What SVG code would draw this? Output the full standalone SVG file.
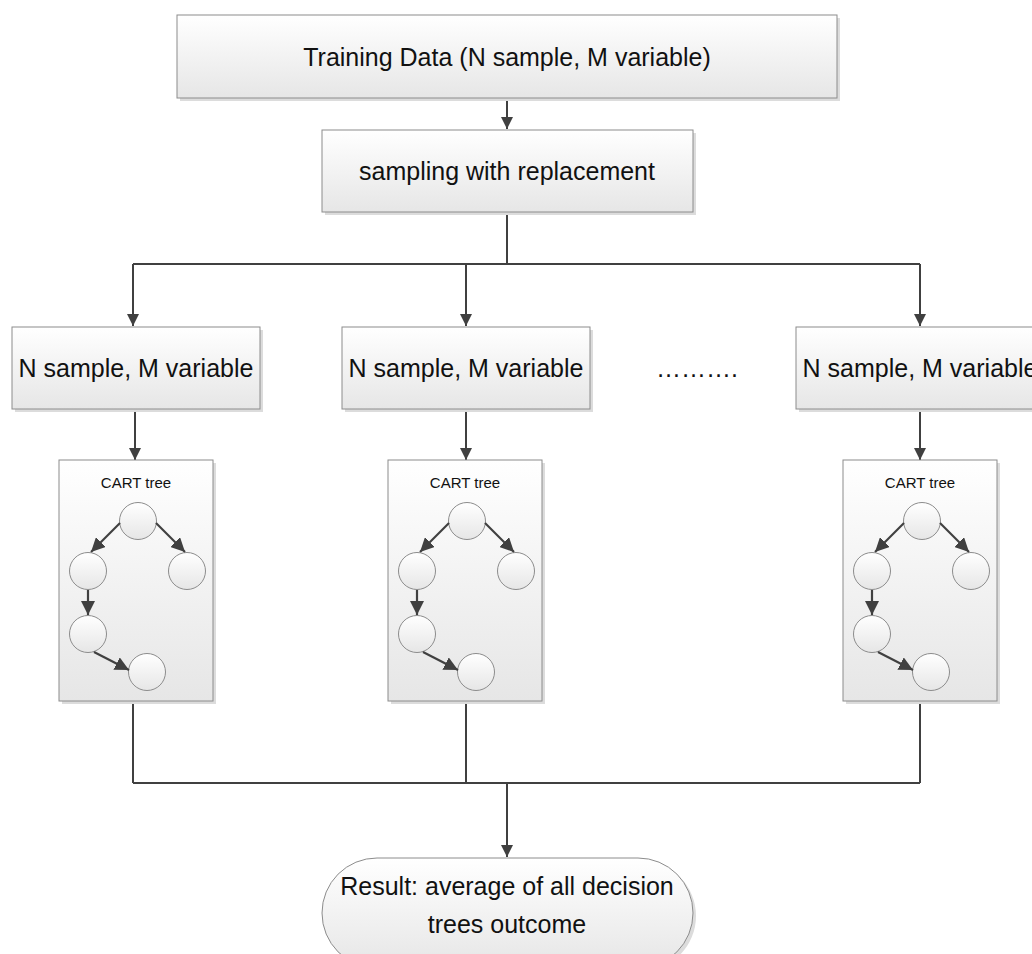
<svg xmlns="http://www.w3.org/2000/svg" width="1032" height="954" viewBox="0 0 1032 954">
<style>
.box{fill:url(#g);stroke:#8c8c8c;stroke-width:1}
.sh{fill:#dcdcdc}
.t{font-family:"Liberation Sans",Arial,sans-serif;fill:#111;text-anchor:middle}
.big{font-size:25px}
.sm{font-size:15px}
.c{stroke:#404040;stroke-width:2;fill:none}
.ca{stroke:#404040;stroke-width:2;fill:none;marker-end:url(#ah)}
.ta{stroke:#404040;stroke-width:2.2;fill:none;marker-end:url(#ah2)}
.cir{fill:url(#g);stroke:#8c8c8c;stroke-width:1}
</style>
<defs>
<linearGradient id="g" x1="0" y1="0" x2="0" y2="1">
<stop offset="0" stop-color="#ffffff"/>
<stop offset="1" stop-color="#e6e6e6"/>
</linearGradient>
<marker id="ah" markerWidth="12" markerHeight="12" viewBox="0 0 12 12" refX="12" refY="6" orient="auto" markerUnits="userSpaceOnUse">
<path d="M0,0 L12,6 L0,12 z" fill="#404040"/>
</marker>
<marker id="ah2" markerWidth="14" markerHeight="14" viewBox="0 0 14 14" refX="14" refY="7" orient="auto" markerUnits="userSpaceOnUse">
<path d="M0,0 L14,7 L0,14 z" fill="#404040"/>
</marker>
</defs>
<rect width="1032" height="954" fill="#fff"/>

<g id="connectors">
<path class="ca" d="M507,98 V129"/>
<path class="c" d="M507,212 V264 M133,264 H920"/>
<path class="ca" d="M133,264 V326"/>
<path class="ca" d="M466,264 V326"/>
<path class="ca" d="M920,264 V326"/>
<path class="ca" d="M135,409 V460"/>
<path class="ca" d="M466,409 V460"/>
<path class="ca" d="M920,409 V460"/>
<path class="c" d="M133,701 V783 M466,701 V783 M920,701 V783 M133,783 H920"/>
<path class="ca" d="M507,783 V857"/>
</g>

<g id="training">
<rect class="sh" x="180" y="18" width="660" height="83"/>
<rect class="box" x="177" y="15" width="660" height="83"/>
<text class="t big" x="507" y="66">Training Data (N sample, M variable)</text>
</g>

<g id="sampling">
<rect class="sh" x="325" y="133" width="371" height="82"/>
<rect class="box" x="322" y="130" width="371" height="82"/>
<text class="t big" x="507" y="180">sampling with replacement</text>
</g>

<g id="sample1">
<rect class="sh" x="15" y="330" width="248" height="82"/>
<rect class="box" x="12" y="327" width="248" height="82"/>
<text class="t big" x="136" y="377">N sample, M variable</text>
</g>
<g id="sample2">
<rect class="sh" x="345" y="330" width="248" height="82"/>
<rect class="box" x="342" y="327" width="248" height="82"/>
<text class="t big" x="466" y="377">N sample, M variable</text>
</g>
<g id="dots">
<text class="t big" x="697" y="377">……….</text>
</g>
<g id="sample3">
<rect class="sh" x="799" y="330" width="248" height="82"/>
<rect class="box" x="796" y="327" width="248" height="82"/>
<text class="t big" x="920" y="377">N sample, M variable</text>
</g>

<g id="cart1" transform="translate(0,0)">
<rect class="sh" x="62" y="463" width="154" height="241"/>
<rect class="box" x="59" y="460" width="154" height="241"/>
<text class="t sm" x="136" y="488">CART tree</text>
<circle class="cir" cx="138" cy="521" r="18.5"/>
<circle class="cir" cx="88" cy="571" r="18.5"/>
<circle class="cir" cx="187" cy="571" r="18.5"/>
<circle class="cir" cx="88" cy="634" r="18.5"/>
<circle class="cir" cx="147" cy="672" r="18.5"/>
<path class="ta" d="M120,523 L91,552"/>
<path class="ta" d="M156,523 L185,552"/>
<path class="ta" d="M88,590 V615"/>
<path class="ta" d="M94,652 L129,670"/>
</g>
<g id="cart2" transform="translate(329,0)">
<rect class="sh" x="62" y="463" width="154" height="241"/>
<rect class="box" x="59" y="460" width="154" height="241"/>
<text class="t sm" x="136" y="488">CART tree</text>
<circle class="cir" cx="138" cy="521" r="18.5"/>
<circle class="cir" cx="88" cy="571" r="18.5"/>
<circle class="cir" cx="187" cy="571" r="18.5"/>
<circle class="cir" cx="88" cy="634" r="18.5"/>
<circle class="cir" cx="147" cy="672" r="18.5"/>
<path class="ta" d="M120,523 L91,552"/>
<path class="ta" d="M156,523 L185,552"/>
<path class="ta" d="M88,590 V615"/>
<path class="ta" d="M94,652 L129,670"/>
</g>
<g id="cart3" transform="translate(784,0)">
<rect class="sh" x="62" y="463" width="154" height="241"/>
<rect class="box" x="59" y="460" width="154" height="241"/>
<text class="t sm" x="136" y="488">CART tree</text>
<circle class="cir" cx="138" cy="521" r="18.5"/>
<circle class="cir" cx="88" cy="571" r="18.5"/>
<circle class="cir" cx="187" cy="571" r="18.5"/>
<circle class="cir" cx="88" cy="634" r="18.5"/>
<circle class="cir" cx="147" cy="672" r="18.5"/>
<path class="ta" d="M120,523 L91,552"/>
<path class="ta" d="M156,523 L185,552"/>
<path class="ta" d="M88,590 V615"/>
<path class="ta" d="M94,652 L129,670"/>
</g>

<g id="result">
<rect class="sh" x="325" y="861" width="371" height="110" rx="55" ry="55"/>
<rect class="box" x="322" y="858" width="371" height="110" rx="55" ry="55"/>
<text class="t big" x="507" y="895">Result: average of all decision</text>
<text class="t big" x="507" y="933">trees outcome</text>
</g>
</svg>
